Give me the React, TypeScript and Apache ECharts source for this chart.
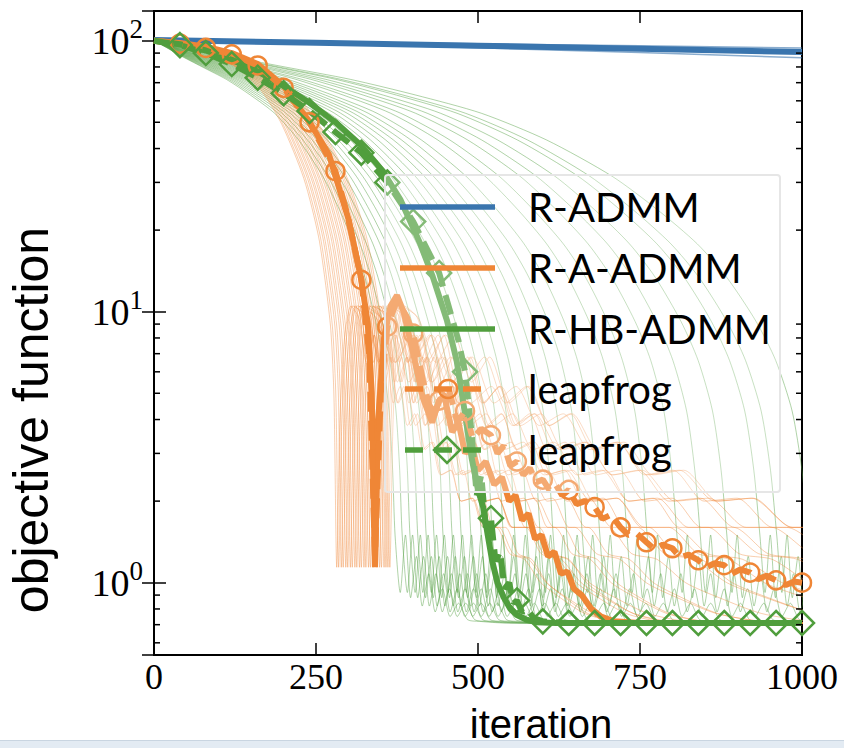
import React, { useEffect, useRef } from 'react';
import * as echarts from 'echarts';

const BLUE = '#3a75ae';
const ORANGE = '#ef8636';
const GREEN = '#509e3d';

// axis ticks
const xTickValues = [0, 250, 500, 750, 1000];
const yDecadeExponents = [0, 1, 2];
const yMinorTickValues = [0.6, 0.7, 0.8, 0.9, 2, 3, 4, 5, 6, 7, 8, 9, 20, 30, 40, 50, 60, 70, 80, 90];

// legend labels
const legendLabels = ['R-ADMM', 'R-A-ADMM', 'R-HB-ADMM', 'leapfrog', 'leapfrog'];

// R-ADMM (thick) and its thin companions
const rAdmm = [[0, 100.5], [250, 98.2], [500, 95.8], [750, 93.3], [1000, 90.8]];
const rAdmmUpper = [[0, 100.5], [250, 99.0], [500, 97.4], [750, 95.8], [1000, 94.0]];
const rAdmmLower = [[0, 100.5], [250, 97.6], [500, 94.2], [750, 90.4], [1000, 86.5]];

// R-A-ADMM (solid orange)
const raAdmm = [
  [0, 100], [40, 98], [80, 95], [120, 90], [160, 82], [200, 68], [240, 50], [270, 38], [300, 22],
  [320, 13.1], [330, 9], [336, 5], [341, 1.14], [346, 4], [355, 8], [365, 10.5], [375, 11.5],
  [385, 10], [400, 7], [415, 4.8], [429, 3.9], [440, 4.7], [448, 4.9], [460, 3.6], [470, 3.9],
  [480, 3.0], [490, 3.2], [500, 2.6], [512, 2.8], [525, 2.3], [537, 2.45], [548, 2.0], [558, 2.1],
  [568, 1.7], [578, 1.8], [588, 1.45], [598, 1.5], [608, 1.25], [618, 1.3], [628, 1.08], [638, 1.1],
  [648, 0.95], [660, 0.9], [675, 0.8], [690, 0.75], [710, 0.72], [750, 0.71], [1000, 0.71],
];

// R-HB-ADMM (solid green)
const rhbAdmm = [
  [0, 100], [40, 97], [80, 92], [120, 85], [160, 77], [200, 68], [240, 59], [280, 50], [320, 41],
  [353, 33], [380, 26], [410, 18], [430, 13.5], [452, 9.3], [467, 6.6], [480, 4.2], [490, 2.9],
  [500, 2.2], [508, 1.9], [515, 1.5], [522, 1.2], [530, 1.0], [540, 0.88], [550, 0.8], [560, 0.76],
  [575, 0.73], [590, 0.715], [620, 0.71], [1000, 0.71],
];

// leapfrog for R-A-ADMM (dashed orange, circles)
const leapA = [
  [0, 100], [40, 97.5], [80, 94], [120, 89], [160, 81], [200, 67], [240, 50], [280, 33], [300, 22],
  [320, 13.1], [332, 7], [341, 1.25], [350, 5], [360, 8.8], [375, 11], [390, 9.6], [400, 8.3],
  [415, 5.6], [430, 4.0], [440, 4.7], [455, 5.2], [468, 3.9], [480, 4.3], [492, 3.4], [505, 3.7],
  [520, 3.5], [530, 3.0], [540, 3.2], [550, 2.7], [560, 2.8], [570, 2.5], [580, 2.65], [590, 2.35],
  [600, 2.4], [610, 2.2], [620, 2.3], [630, 2.1], [640, 2.2], [652, 1.95], [665, 2.0], [680, 1.9],
  [692, 1.72], [705, 1.78], [720, 1.6], [732, 1.5], [745, 1.52], [760, 1.41], [772, 1.33], [785, 1.38],
  [800, 1.34], [812, 1.24], [825, 1.27], [840, 1.21], [852, 1.14], [865, 1.18], [880, 1.16], [892, 1.08],
  [905, 1.12], [920, 1.09], [932, 1.03], [945, 1.06], [960, 1.02], [975, 0.98], [988, 1.01], [1000, 1.0],
];

// leapfrog for R-HB-ADMM (dashed green, diamonds)
const leapHB = [
  [0, 100], [40, 96.3], [80, 90], [120, 82], [160, 73], [200, 64], [240, 55], [280, 46], [320, 38.6],
  [360, 30], [400, 21.5], [440, 13.9], [470, 7.8], [480, 6.0], [490, 3.6], [498, 2.1], [505, 2.5],
  [512, 1.6], [520, 1.73], [527, 1.2], [534, 1.3], [541, 0.95], [548, 1.0], [555, 0.84], [560, 0.86],
  [568, 0.78], [576, 0.8], [586, 0.74], [600, 0.72], [640, 0.71], [680, 0.71], [720, 0.71], [760, 0.71],
  [800, 0.71], [840, 0.71], [880, 0.71], [920, 0.71], [960, 0.71], [1000, 0.71],
];

// thin green family: iteration where each curve plunges, descent shape (fraction of plunge, value), after-plunge ripple (offset, value)
const greenThinPlunge = [372, 383, 395, 407, 420, 432, 446, 460, 474, 489, 505, 522, 539, 557, 576, 596, 616, 637, 661, 688, 730, 761, 807, 843, 884, 935, 961, 1010];
const greenThinDescent = [
  [0, 100], [0.05, 94.5], [0.1, 89], [0.2, 80], [0.3, 72], [0.4, 63], [0.5, 54], [0.6, 43], [0.7, 31.6],
  [0.77, 23.7], [0.83, 17.8], [0.875, 13.4], [0.92, 9.2], [0.95, 6.6], [0.975, 4.3], [0.99, 2.6], [1, 1.5],
];
const greenThinRipple = [
  [8, 0.92], [16, 1.5], [24, 0.88], [33, 1.25], [42, 0.82], [52, 1.08], [62, 0.78], [73, 0.95],
  [85, 0.75], [98, 0.84], [112, 0.73], [130, 0.72], [170, 0.71], [700, 0.71],
];

// thin orange family: cusp iteration, tail stretch, descent shape, bounce and tail after cusp
const orangeThinCusp = [282, 285, 289, 292, 296, 299, 303, 306, 310, 313, 317, 320, 324, 327, 331, 334, 338, 344, 348, 351, 355, 358, 361, 364];
const orangeThinTailStretch = [1.0, 1.8, 0.8, 2.4, 1.2, 0.75, 2.0, 0.9, 1.5, 2.6, 0.85, 1.3, 2.2, 0.7, 1.6, 0.95, 2.5, 1.1, 1.9, 0.8, 1.4, 2.3, 0.9, 1.7];
const orangeThinDescent = [
  [0, 100], [0.12, 97], [0.24, 93], [0.35, 87], [0.47, 78], [0.59, 65], [0.7, 49], [0.82, 31],
  [0.9, 19], [0.94, 12.5], [0.968, 8.5], [0.985, 4.8], [1, 1.14],
];
const orangeThinBounce = [[5, 4], [12, 8], [22, 10.5]];
const orangeThinTail = [
  [12, 9.5], [24, 6.5], [36, 8.2], [48, 5.5], [60, 6.8], [73, 4.6],
  [86, 5.3], [100, 3.8], [114, 4.2], [130, 3.1], [146, 3.3], [164, 2.5], [183, 2.6], [204, 2.0],
  [226, 2.05], [250, 1.6], [276, 1.6], [304, 1.28], [334, 1.22], [368, 1.0], [408, 0.88], [458, 0.77],
  [518, 0.72], [598, 0.71], [1000, 0.71],
];

const legendRows = [207, 268, 329, 389, 450];

function markEvery40(pts: number[][]) {
  return pts.map(([x, y]) => (x > 0 && x % 40 === 0 ? [x, y] : { value: [x, y], symbol: 'none' }));
}

function buildOption() {
  const series: any[] = [];

  greenThinPlunge.forEach((T) => {
    const data = [
      ...greenThinDescent.map(([u, v]) => [u * T, v]),
      ...greenThinRipple.map(([d, v]) => [T + d, v]),
    ];
    series.push({
      type: 'line', data, symbol: 'none', silent: true, z: 2, smooth: 0.25,
      lineStyle: { color: GREEN, width: 0.9, opacity: 0.5 },
    });
  });
  orangeThinCusp.forEach((T, i) => {
    const s = orangeThinTailStretch[i];
    const data = [
      ...orangeThinDescent.map(([u, v]) => [u * T, v]),
      ...orangeThinBounce.map(([d, v]) => [T + d, v]),
      ...orangeThinTail.map(([d, v]) => [T + 22 + d * s, v]),
    ];
    series.push({
      type: 'line', data, symbol: 'none', silent: true, z: 2, smooth: 0.25,
      lineStyle: { color: ORANGE, width: 0.9, opacity: 0.45 },
    });
  });
  [rAdmmUpper, rAdmmLower].forEach((d) => {
    series.push({ type: 'line', data: d, symbol: 'none', silent: true, z: 3, lineStyle: { color: BLUE, width: 1.5, opacity: 0.6 } });
  });

  series.push({ name: 'R-ADMM', type: 'line', data: rAdmm, symbol: 'none', z: 4, lineStyle: { color: BLUE, width: 6 } });
  series.push({ name: 'R-A-ADMM', type: 'line', data: raAdmm, symbol: 'none', z: 4, lineStyle: { color: ORANGE, width: 6 } });
  series.push({ name: 'R-HB-ADMM', type: 'line', data: rhbAdmm, symbol: 'none', z: 4, lineStyle: { color: GREEN, width: 6 } });
  series.push({
    name: 'leapfrog A', type: 'line', data: markEvery40(leapA), symbol: 'circle', symbolSize: 18, z: 5,
    lineStyle: { color: ORANGE, width: 6, type: [20, 9] },
    itemStyle: { color: 'rgba(0,0,0,0)', borderColor: ORANGE, borderWidth: 2.5 },
  });
  series.push({
    name: 'leapfrog HB', type: 'line', data: markEvery40(leapHB), symbol: 'diamond', symbolSize: [24, 24], z: 5,
    lineStyle: { color: GREEN, width: 6, type: [20, 9] },
    itemStyle: { color: 'rgba(0,0,0,0)', borderColor: GREEN, borderWidth: 2.5 },
  });

  // minor log ticks on left and right
  series.push({
    type: 'custom', silent: true, z: 20, clip: false,
    data: yMinorTickValues.map((v) => [0, v]),
    encode: { x: 0, y: 1 },
    renderItem: (params: any, api: any) => {
      const y = api.coord([0, api.value(1)])[1];
      const cs = params.coordSys;
      const st = { stroke: '#000', lineWidth: 1.5 };
      return {
        type: 'group',
        children: [
          { type: 'line', shape: { x1: cs.x, y1: y, x2: cs.x + 6, y2: y }, style: st },
          { type: 'line', shape: { x1: cs.x + cs.width - 6, y1: y, x2: cs.x + cs.width, y2: y }, style: st },
        ],
      };
    },
  });

  const tickStyle = { show: true, inside: true, length: 12, lineStyle: { color: '#000', width: 1.5 } };
  const yLabel = {
    margin: 11,
    formatter: (v: number) => {
      const l = Math.log10(v);
      const e = Math.round(l);
      return Math.abs(l - e) < 1e-6 && yDecadeExponents.includes(e) ? `{b|10}{s|${e}}` : '';
    },
    rich: {
      b: { fontFamily: 'Liberation Serif', fontSize: 38, color: '#000', lineHeight: 50 },
      s: { fontFamily: 'Liberation Serif', fontSize: 27, color: '#000', verticalAlign: 'top', lineHeight: 27 },
    },
  };

  const graphic: any[] = [];
  graphic.push({
    type: 'rect', z: 100, silent: true,
    shape: { x: 385, y: 175, width: 395, height: 317, r: 3 },
    style: { fill: 'rgba(255,255,255,0.3)', stroke: '#e6e6e6', lineWidth: 2 },
  });
  const colors = [BLUE, ORANGE, GREEN, ORANGE, GREEN];
  legendRows.forEach((ry, i) => {
    const dashed = i >= 3;
    graphic.push({
      type: 'line', z: 101, silent: true,
      shape: dashed ? { x1: 405, y1: ry, x2: 483, y2: ry } : { x1: 400, y1: ry, x2: 495, y2: ry },
      style: { stroke: colors[i], lineWidth: 5.5, lineDash: dashed ? [18, 11] : null },
    });
    graphic.push({
      type: 'text', z: 102, silent: true, x: 528, y: ry,
      style: { text: legendLabels[i], fontFamily: 'Lato', fontSize: 40, fill: '#000', align: 'left', verticalAlign: 'middle' },
    });
  });
  graphic.push({
    type: 'circle', z: 102, silent: true, shape: { cx: 448, cy: legendRows[3], r: 9 },
    style: { fill: 'none', stroke: ORANGE, lineWidth: 2.5 },
  });
  graphic.push({
    type: 'polygon', z: 102, silent: true,
    shape: { points: [[447, legendRows[4] - 13], [460, legendRows[4]], [447, legendRows[4] + 13], [434, legendRows[4]]] },
    style: { fill: 'none', stroke: GREEN, lineWidth: 2.5 },
  });
  graphic.push({ type: 'rect', z: 140, silent: true, shape: { x: 0, y: 741, width: 844, height: 7 }, style: { fill: '#e3ebf3' } });
  graphic.push({ type: 'line', z: 141, silent: true, shape: { x1: 0, y1: 740.5, x2: 844, y2: 740.5 }, style: { stroke: '#c9d5e1', lineWidth: 1 } });
  graphic.push({
    type: 'text', z: 150, silent: true, x: 541, y: 744,
    style: { text: 'iteration', fontFamily: 'Liberation Sans', fontSize: 40, fill: '#000', align: 'center', verticalAlign: 'bottom' },
  });
  graphic.push({
    type: 'text', z: 150, silent: true, x: 31, y: 420, rotation: Math.PI / 2,
    style: { text: 'objective function', fontFamily: 'Liberation Sans', fontSize: 50, fill: '#000', align: 'center', verticalAlign: 'middle' },
  });

  return {
    animation: false,
    backgroundColor: '#fff',
    grid: {
      left: 154, top: 11, width: 648, height: 644, show: true, borderColor: '#000', borderWidth: 2,
      backgroundColor: 'transparent', containLabel: false, outerBoundsMode: 'none',
    },
    xAxis: [
      {
        type: 'value', min: 0, max: 1000, interval: 250, position: 'bottom',
        axisLine: { show: false }, axisTick: tickStyle, splitLine: { show: false },
        axisLabel: {
          margin: 4, fontFamily: 'Liberation Serif', fontSize: 36, color: '#000',
          formatter: (v: number) => (xTickValues.includes(v) ? String(v) : ''),
        },
      },
      {
        type: 'value', min: 0, max: 1000, interval: 250, position: 'top',
        axisLine: { show: false }, axisTick: tickStyle, splitLine: { show: false }, axisLabel: { show: false },
      },
    ],
    yAxis: [
      {
        type: 'log', logBase: 10, min: 0.541, max: 128.7, position: 'left',
        axisLine: { show: false }, axisTick: tickStyle, splitLine: { show: false }, minorTick: { show: false },
        axisLabel: yLabel,
      },
      {
        type: 'log', logBase: 10, min: 0.541, max: 128.7, position: 'right',
        axisLine: { show: false }, axisTick: tickStyle, splitLine: { show: false }, minorTick: { show: false },
        axisLabel: { show: false },
      },
    ],
    series,
    graphic,
  };
}

export default function App() {
  const ref = useRef<HTMLDivElement>(null);
  useEffect(() => {
    if (!ref.current) return;
    const chart = echarts.init(ref.current, null, { renderer: 'svg' });
    chart.setOption(buildOption() as any);
    return () => chart.dispose();
  }, []);
  return (
    <div
      ref={ref}
      style={{ position: 'absolute', left: 0, top: 0, width: 844, height: 748, background: '#fff' }}
    />
  );
}
